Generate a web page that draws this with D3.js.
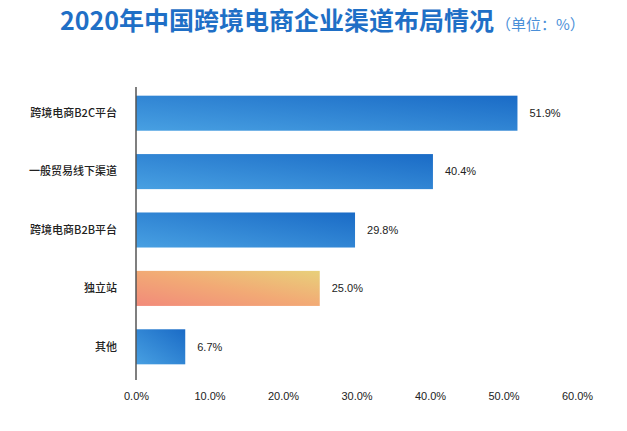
<!DOCTYPE html>
<html><head><meta charset="utf-8">
<script src="https://cdn.jsdelivr.net/npm/d3@7"></script>
<style>body{margin:0;background:#fff;}svg{display:block;}</style>
</head><body>
<script>
const categories = ["跨境电商B2C平台","一般贸易线下渠道","跨境电商B2B平台","独立站","其他"];
const values = [51.9, 40.4, 29.8, 25.0, 6.7];
const highlight = [false, false, false, true, false];
const ticks = [0,10,20,30,40,50,60];

const W = 627, H = 431;
const svg = d3.select("body").append("svg").attr("width", W).attr("height", H);
const defs = svg.append("defs");
const gb = defs.append("linearGradient").attr("id","gBlue").attr("x1","0").attr("y1","1").attr("x2","1").attr("y2","0");
gb.append("stop").attr("offset","0").attr("stop-color","#48a0e2");
gb.append("stop").attr("offset","1").attr("stop-color","#1a6bc6");
const go = defs.append("linearGradient").attr("id","gOrange").attr("x1","0").attr("y1","1").attr("x2","1").attr("y2","0");
go.append("stop").attr("offset","0").attr("stop-color","#f28a7a");
go.append("stop").attr("offset","0.5").attr("stop-color","#f2aa75");
go.append("stop").attr("offset","1").attr("stop-color","#e8d07a");

const x = d3.scaleLinear().domain([0,60]).range([136,577]);
const y = d3.scaleBand().domain(categories).range([84,376]).paddingInner(0.4).paddingOuter(0.2);

// title
const t = svg.append("text").attr("x",60).attr("y",30).attr("font-family","'Noto Sans CJK SC', sans-serif");
t.append("tspan").attr("font-size",25).attr("font-weight","bold").attr("fill","#1f6fc6").text("2020年中国跨境电商企业渠道布局情况");
t.append("tspan").attr("font-size",15).attr("fill","#4a8fd8").attr("dx",2).text("（单位：%）");

// bars
svg.selectAll("rect.bar").data(values).join("rect").attr("class","bar")
  .attr("x", x(0)).attr("y",(d,i)=>y(categories[i]))
  .attr("width", d=>x(d)-x(0)).attr("height", y.bandwidth())
  .attr("fill",(d,i)=>highlight[i]?"url(#gOrange)":"url(#gBlue)");

// axis line
svg.append("line").attr("x1",x(0)).attr("x2",x(0)).attr("y1",87).attr("y2",380)
  .attr("stroke","#555").attr("stroke-width",1.5);

// category labels
svg.selectAll("text.cat").data(categories).join("text").attr("class","cat")
  .attr("x",117).attr("y",d=>y(d)+y.bandwidth()/2).attr("dy","0.35em")
  .attr("text-anchor","end").attr("font-size",11).attr("font-weight",500).attr("fill","#222")
  .attr("font-family","'Noto Sans CJK SC', sans-serif").text(d=>d);

// value labels
svg.selectAll("text.val").data(values).join("text").attr("class","val")
  .attr("x",d=>x(d)+12).attr("y",(d,i)=>y(categories[i])+y.bandwidth()/2).attr("dy","0.35em")
  .attr("font-size",11).attr("fill","#222")
  .attr("font-family","Arial, 'Liberation Sans', sans-serif").text(d=>d.toFixed(1)+"%");

// x axis
const ax = svg.append("g").attr("transform","translate(0,380)")
  .call(d3.axisBottom(x).tickValues(ticks).tickSize(0).tickPadding(12).tickFormat(d=>d.toFixed(1)+"%"));
ax.select(".domain").remove();
ax.selectAll("text").attr("font-size",11).attr("fill","#222").attr("font-family","Arial, 'Liberation Sans', sans-serif");
</script>
</body></html>
